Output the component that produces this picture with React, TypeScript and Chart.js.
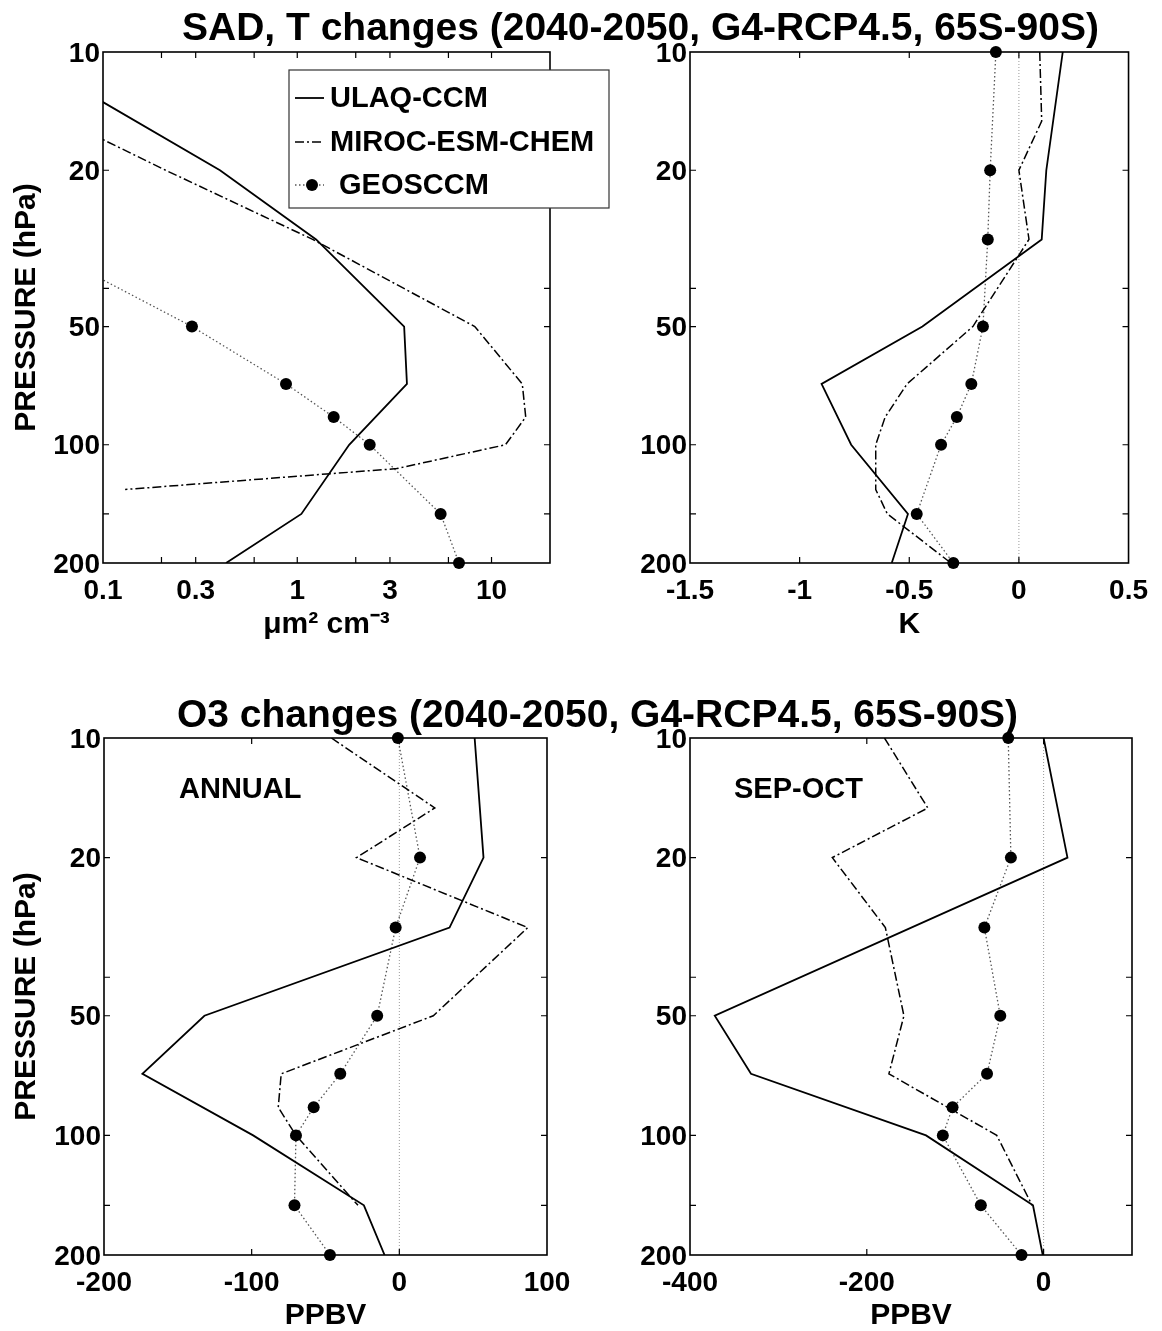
import React, { useEffect, useRef } from "react";
import { Chart, registerables } from "chart.js";

Chart.register(...registerables);

const FONT = '"Liberation Sans", Arial, Helvetica, sans-serif';

const MODELS = ["ULAQ-CCM", "MIROC-ESM-CHEM", "GEOSCCM"];

// pressure axis (hPa)
const Y_TICKS = [200, 150, 100, 50, 40, 20, 10];
const Y_TICK_LABELS = [10, 20, 50, 100, 200];

// x axes
const SAD_X_TICKS = [0.1, 0.2, 0.3, 0.6, 1, 2, 3, 6, 10, 20];
const SAD_X_LABELS = [0.1, 0.3, 1, 3, 10];
const T_X_TICKS = [-1.5, -1, -0.5, 0, 0.5];
const O3A_X_TICKS = [-200, -100, 0, 100];
const O3S_X_TICKS = [-400, -200, 0];

// Panel 1: SAD (um2 cm-3)
const sadUlaqP = [10, 20, 30, 50, 70, 100, 150, 200];
const sadUlaq = [0.036, 0.4, 1.25, 3.55, 3.67, 1.85, 1.05, 0.43];
const sadMirocP = [10, 20, 30, 50, 70, 85, 100, 115, 130];
const sadMiroc = [0.012, 0.21, 1.2, 8.2, 14.4, 15.0, 11.8, 3.25, 0.13];
const sadGeosP = [30, 50, 70, 85, 100, 150, 200];
const sadGeos = [0.04, 0.287, 0.875, 1.54, 2.36, 5.47, 6.8];

// Panel 2: T (K)
const tUlaqP = [10, 20, 30, 50, 70, 100, 150, 200];
const tUlaq = [0.2, 0.125, 0.104, -0.44, -0.9, -0.765, -0.506, -0.58];
const tMirocP = [10, 15, 20, 30, 50, 70, 85, 100, 130, 150, 200];
const tMiroc = [0.095, 0.104, 0.0, 0.046, -0.21, -0.51, -0.61, -0.653, -0.653, -0.6, -0.31];
const tGeosP = [10, 20, 30, 50, 70, 85, 100, 150, 200];
const tGeos = [-0.105, -0.131, -0.142, -0.164, -0.217, -0.283, -0.355, -0.466, -0.299];

// Panel 3: O3 annual (PPBV)
const o3aUlaqP = [10, 20, 30, 50, 70, 100, 150, 200];
const o3aUlaq = [51, 57, 34, -132, -174, -99, -24, -10];
const o3aMirocP = [10, 15, 20, 30, 50, 70, 85, 100, 150];
const o3aMiroc = [-46, 24, -29, 87, 23, -80, -82, -70, -28];
const o3aGeosP = [10, 20, 30, 50, 70, 85, 100, 150, 200];
const o3aGeos = [-1, 14, -2.5, -15, -40, -58, -70, -71, -47];

// Panel 4: O3 Sep-Oct (PPBV)
const o3sUlaqP = [10, 20, 50, 70, 100, 150, 200];
const o3sUlaq = [0, 27, -372, -331, -133, -12, -1];
const o3sMirocP = [10, 15, 20, 30, 50, 70, 100, 150];
const o3sMiroc = [-180, -131, -239, -179, -158, -175, -53, -13];
const o3sGeosP = [10, 20, 30, 50, 70, 85, 100, 150, 200];
const o3sGeos = [-40, -37, -67, -49, -64, -103, -114, -71, -25];

// zero reference line
const ZERO_P = [10, 200];
const ZERO_X = [0, 0];

const pts = (p: number[], x: number[]) => p.map((y, i) => ({ x: x[i], y }));

function modelDatasets(uP, u, mP, m, gP, g, zero) {
  const ds: any[] = [
    { label: MODELS[0], data: pts(uP, u), showLine: true, borderColor: "#000", borderWidth: 1.8, pointRadius: 0, order: 1 },
    { label: MODELS[1], data: pts(mP, m), showLine: true, borderColor: "#000", borderWidth: 1.5, borderDash: [9, 3, 2, 3], pointRadius: 0, order: 2 },
    { label: MODELS[2], data: pts(gP, g), showLine: true, borderColor: "#555", borderWidth: 1.3, borderDash: [1.5, 2.5], pointRadius: 0, order: 3 },
    {
      label: MODELS[2] + " points", data: pts(gP, g), showLine: false, pointRadius: 6,
      pointBackgroundColor: "#000", pointBorderColor: "#000", pointBorderWidth: 0,
      clip: { left: 0, right: 0, top: 10, bottom: 10 }, order: 0,
    },
  ];
  if (zero) {
    ds.push({ label: "zero", data: pts(ZERO_P, ZERO_X), showLine: true, borderColor: "#999", borderWidth: 1, borderDash: [1, 2], pointRadius: 0, order: 5 });
  }
  return ds;
}

const framePlugin = {
  id: "frame",
  afterDatasetsDraw(chart) {
    const { ctx, chartArea: a, scales } = chart;
    ctx.save();
    ctx.setLineDash([]);
    ctx.strokeStyle = "#000";
    ctx.lineWidth = 1.2;
    const L = 6;
    ctx.beginPath();
    for (const t of scales.x.ticks) {
      const px = scales.x.getPixelForValue(t.value);
      if (px < a.left + 1 || px > a.right - 1) continue;
      ctx.moveTo(px, a.bottom); ctx.lineTo(px, a.bottom - L);
      ctx.moveTo(px, a.top); ctx.lineTo(px, a.top + L);
    }
    for (const t of scales.y.ticks) {
      const py = scales.y.getPixelForValue(t.value);
      if (py < a.top + 1 || py > a.bottom - 1) continue;
      ctx.moveTo(a.left, py); ctx.lineTo(a.left + L, py);
      ctx.moveTo(a.right, py); ctx.lineTo(a.right - L, py);
    }
    ctx.stroke();
    ctx.lineWidth = 1.6;
    ctx.strokeRect(a.left, a.top, a.right - a.left, a.bottom - a.top);
    ctx.restore();
  },
};

const legendPlugin = {
  id: "modelLegend",
  afterDraw(chart) {
    const { ctx, chartArea: a } = chart;
    const ds = chart.data.datasets;
    const x0 = a.left + 186, y0 = a.top + 18, w = 320, h = 138;
    ctx.save();
    ctx.fillStyle = "#fff";
    ctx.fillRect(x0, y0, w, h);
    ctx.strokeStyle = "#333";
    ctx.lineWidth = 1.2;
    ctx.setLineDash([]);
    ctx.strokeRect(x0, y0, w, h);
    const rows = [
      { i: 0, dy: 46, tx: 227, marker: -1 },
      { i: 1, dy: 90, tx: 227, marker: -1 },
      { i: 2, dy: 133, tx: 236, marker: 3 },
    ];
    for (const r of rows) {
      const d = ds[r.i];
      const y = a.top + r.dy;
      ctx.strokeStyle = d.borderColor;
      ctx.lineWidth = d.borderWidth;
      ctx.setLineDash(d.borderDash || []);
      ctx.beginPath();
      ctx.moveTo(a.left + 192, y);
      ctx.lineTo(a.left + 221, y);
      ctx.stroke();
      if (r.marker >= 0) {
        const md = ds[r.marker];
        ctx.setLineDash([]);
        ctx.fillStyle = md.pointBackgroundColor;
        ctx.beginPath();
        ctx.arc(a.left + 209, y, md.pointRadius, 0, Math.PI * 2);
        ctx.fill();
      }
      ctx.fillStyle = "#000";
      ctx.font = `bold 29px ${FONT}`;
      ctx.textAlign = "left";
      ctx.textBaseline = "middle";
      ctx.fillText(d.label, a.left + r.tx, y + 1);
    }
    ctx.restore();
  },
};

function notePlugin(text: string, dx: number, dy: number) {
  return {
    id: "note",
    afterDatasetsDraw(chart) {
      const { ctx, chartArea: a } = chart;
      ctx.save();
      ctx.fillStyle = "#000";
      ctx.font = `bold 29px ${FONT}`;
      ctx.textAlign = "left";
      ctx.textBaseline = "alphabetic";
      ctx.fillText(text, a.left + dx, a.top + dy);
      ctx.restore();
    },
  };
}

const PANELS = [
  {
    box: { x: 0, y: 0, w: 620, h: 660 },
    area: { left: 103, top: 52, right: 550, bottom: 563 },
    xType: "logarithmic", xMin: 0.1, xMax: 20, xTicks: SAD_X_TICKS, xLabels: SAD_X_LABELS,
    xTitle: "\u03bcm\u00b2 cm\u207b\u00b3", xTitlePad: 20, yTitle: true,
    datasets: modelDatasets(sadUlaqP, sadUlaq, sadMirocP, sadMiroc, sadGeosP, sadGeos, false),
    extra: [legendPlugin],
  },
  {
    box: { x: 620, y: 0, w: 542, h: 660 },
    area: { left: 70, top: 52, right: 513, bottom: 563 },
    xType: "linear", xMin: -1.5, xMax: 0.5, xTicks: T_X_TICKS, xLabels: T_X_TICKS,
    xTitle: "K", xTitlePad: 20, yTitle: false,
    datasets: modelDatasets(tUlaqP, tUlaq, tMirocP, tMiroc, tGeosP, tGeos, true),
    extra: [],
  },
  {
    box: { x: 0, y: 660, w: 620, h: 671 },
    area: { left: 104, top: 78, right: 547, bottom: 595 },
    xType: "linear", xMin: -200, xMax: 100, xTicks: O3A_X_TICKS, xLabels: O3A_X_TICKS,
    xTitle: "PPBV", xTitlePad: 0, yTitle: true,
    datasets: modelDatasets(o3aUlaqP, o3aUlaq, o3aMirocP, o3aMiroc, o3aGeosP, o3aGeos, true),
    extra: [notePlugin("ANNUAL", 75, 60)],
  },
  {
    box: { x: 620, y: 660, w: 542, h: 671 },
    area: { left: 70, top: 78, right: 512, bottom: 595 },
    xType: "linear", xMin: -400, xMax: 100, xTicks: O3S_X_TICKS, xLabels: O3S_X_TICKS,
    xTitle: "PPBV", xTitlePad: 0, yTitle: false,
    datasets: modelDatasets(o3sUlaqP, o3sUlaq, o3sMirocP, o3sMiroc, o3sGeosP, o3sGeos, true),
    extra: [notePlugin("SEP-OCT", 44, 60)],
  },
];

function makeConfig(p): any {
  const { box, area } = p;
  const tickFont = { family: FONT, size: 28, weight: "bold", lineHeight: 1 };
  const titleFont = { family: FONT, size: 30, weight: "bold", lineHeight: 1 };
  return {
    type: "scatter",
    data: { datasets: p.datasets },
    options: {
      animation: false,
      responsive: false,
      maintainAspectRatio: false,
      devicePixelRatio: 1,
      events: [],
      layout: { padding: { left: 0, top: area.top, right: box.w - area.right, bottom: 0 } },
      plugins: { legend: { display: false }, tooltip: { enabled: false }, title: { display: false } },
      scales: {
        x: {
          type: p.xType,
          min: p.xMin,
          max: p.xMax,
          position: "bottom",
          grid: { display: false, drawTicks: false },
          border: { display: false },
          ticks: {
            font: tickFont, color: "#000", padding: 14, autoSkip: false, maxRotation: 0, minRotation: 0,
            callback: (v) => (p.xLabels.includes(Number(v)) ? String(v) : ""),
          },
          afterBuildTicks: (s) => { s.ticks = p.xTicks.map((value) => ({ value })); },
          afterFit: (s) => { s.height = box.h - area.bottom; },
          title: { display: true, text: p.xTitle, font: titleFont, color: "#000", padding: { top: 0, bottom: p.xTitlePad } },
        },
        y: {
          type: "logarithmic",
          min: 10,
          max: 200,
          reverse: true,
          position: "left",
          grid: { display: false, drawTicks: false },
          border: { display: false },
          ticks: {
            font: tickFont, color: "#000", padding: 3, autoSkip: false, labelOffset: 2,
            callback: (v) => (Y_TICK_LABELS.includes(Number(v)) ? String(v) : ""),
          },
          afterBuildTicks: (s) => { s.ticks = Y_TICKS.map((value) => ({ value })); },
          afterFit: (s) => { s.width = area.left; },
          title: { display: p.yTitle, text: "PRESSURE (hPa)", font: titleFont, color: "#000", padding: { top: 12, bottom: 0 } },
        },
      },
    },
    plugins: [framePlugin, ...p.extra],
  };
}

const titleStyle = (left: number, top: number): React.CSSProperties => ({
  position: "absolute",
  left,
  top,
  fontFamily: FONT,
  fontWeight: "bold",
  fontSize: 39,
  lineHeight: "39px",
  whiteSpace: "nowrap",
  color: "#000",
});

export default function App() {
  const r0 = useRef<HTMLCanvasElement>(null);
  const r1 = useRef<HTMLCanvasElement>(null);
  const r2 = useRef<HTMLCanvasElement>(null);
  const r3 = useRef<HTMLCanvasElement>(null);
  const refs = [r0, r1, r2, r3];

  useEffect(() => {
    const charts = PANELS.map((p, i) => new Chart(refs[i].current as HTMLCanvasElement, makeConfig(p)));
    return () => charts.forEach((c) => c.destroy());
  }, []);

  return (
    <div style={{ position: "absolute", left: 0, top: 0, width: 1162, height: 1331, background: "#fff", overflow: "hidden" }}>
      {PANELS.map((p, i) => (
        <canvas
          key={i}
          ref={refs[i]}
          width={p.box.w}
          height={p.box.h}
          style={{ position: "absolute", left: p.box.x, top: p.box.y, width: p.box.w, height: p.box.h }}
        />
      ))}
      <div style={titleStyle(182, 7)}>SAD, T changes (2040-2050, G4-RCP4.5, 65S-90S)</div>
      <div style={titleStyle(177, 694)}>O3 changes (2040-2050, G4-RCP4.5, 65S-90S)</div>
    </div>
  );
}
